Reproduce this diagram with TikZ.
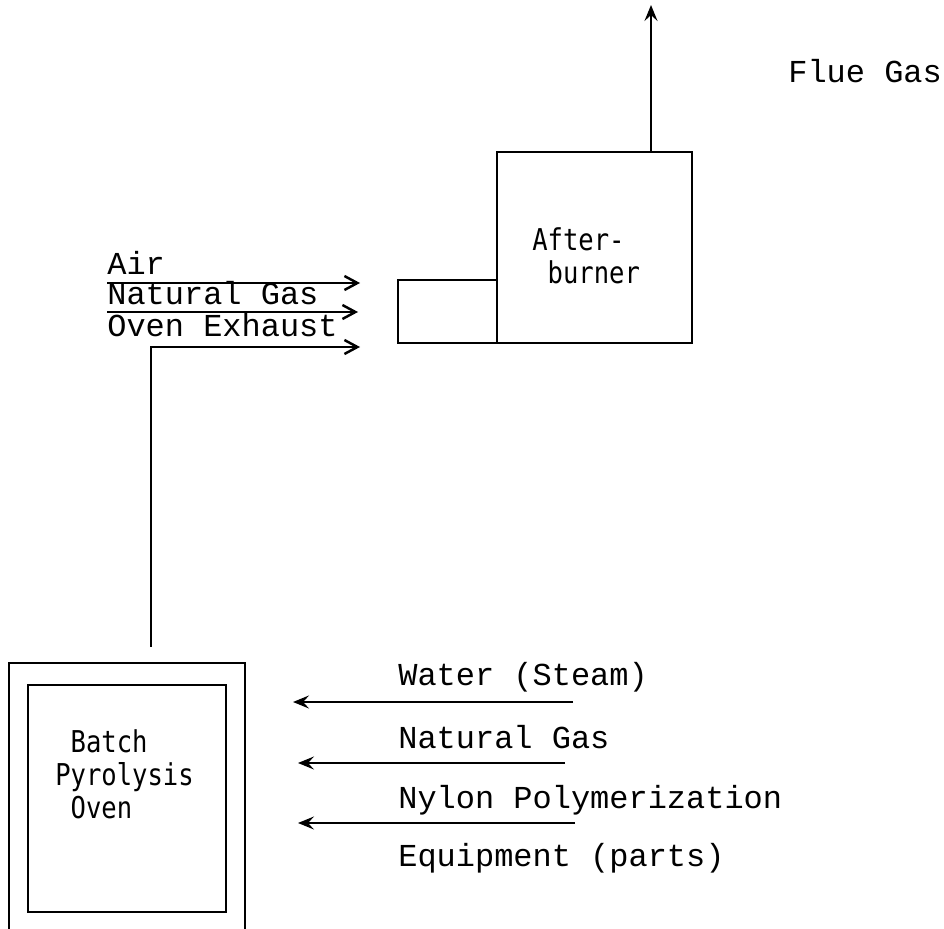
\documentclass[tikz,border=0pt]{standalone}
\usepackage{fontspec}
\setmainfont{Liberation Mono}
\newfontfamily\unitfont{DejaVu Sans Mono}[FakeStretch=0.85]
\usetikzlibrary{arrows.meta, positioning}

\begin{document}
\begin{tikzpicture}[x=0.02cm, y=-0.02cm,
      box/.style={draw, line width=1.6pt, inner sep=0pt},
      tag/.style={font=\fontsize{18.2}{22}\selectfont, inner sep=0pt, anchor=base west},
      unittext/.style={font=\unitfont\fontsize{17.1}{18.8}\selectfont, align=left, inner sep=0pt},
      feed/.style={-{Straight Barb[length=2.6mm, width=2.8mm]}, line width=1.4pt},
      supply/.style={-{Stealth[length=3.2mm, width=2.6mm, inset=1.2mm]}, line width=1.5pt}]
    \useasboundingbox (0,0) rectangle (944,929);

    \node[box, minimum width=3.9cm, minimum height=3.82cm] (burner) at (594.5,247.5) {};
    \node[box, minimum width=1.98cm, minimum height=1.26cm] (mixer) at (447.5,311.5) {};
    \node[unittext, anchor=north west] (burnertext) at (532,227) {After-\\\hphantom{a}burner};

    \node[box, minimum width=4.72cm, minimum height=5.54cm] (ovenshell) at (127,801.5) {};
    \node[box, minimum width=3.96cm, minimum height=4.54cm] (oven) at (127,798.5) {};
    \node[unittext, anchor=north west] (oventext) at (55,729) {\hphantom{a}Batch\\Pyrolysis\\\hphantom{a}Oven};

    \coordinate (stack) at (651,5);
    \draw[supply] (burner.north -| stack) -- (stack);
    \node[tag] (flue) at (788,83) {Flue Gas};

    \coordinate (airin) at (107,283);
    \coordinate (airout) at (360,283);
    \coordinate (gasin) at (107,312);
    \coordinate (gasout) at (358,312);
    \coordinate (exhturn) at (151,347);
    \coordinate (exhout) at (360,347);
    \draw[feed] (airin) -- (airout);
    \draw[feed] (gasin) -- (gasout);
    \draw[feed, shorten <=3mm] (exhturn |- ovenshell.north) -- (exhturn) -- (exhout);
    \node[tag, above right=1.6mm and 0mm of airin] (airtag) {Air};
    \node[tag, above right=1.4mm and 0mm of gasin] (gastag) {Natural Gas};
    \node[tag, above right=2mm and 0mm of exhturn -| airin] (exhtag) {Oven Exhaust};

    \coordinate (waterin) at (573,702);
    \coordinate (waterout) at (293,702);
    \coordinate (fuelin) at (565,763);
    \coordinate (fuelout) at (298,763);
    \coordinate (partsin) at (575,823);
    \coordinate (partsout) at (298,823);
    \draw[supply] (waterin) -- (waterout);
    \draw[supply, line width=1.1pt] (fuelin) -- (fuelout);
    \draw[supply, line width=1.1pt] (partsin) -- (partsout);
    \node[tag] (watertag) at (398,685) {Water (Steam)};
    \node[tag] (fueltag) at (398,748) {Natural Gas};
    \node[tag] (partstag) at (398,808) {Nylon Polymerization};
    \node[tag] (partstag2) at (398,866) {Equipment (parts)};
  \end{tikzpicture}
\end{document}
